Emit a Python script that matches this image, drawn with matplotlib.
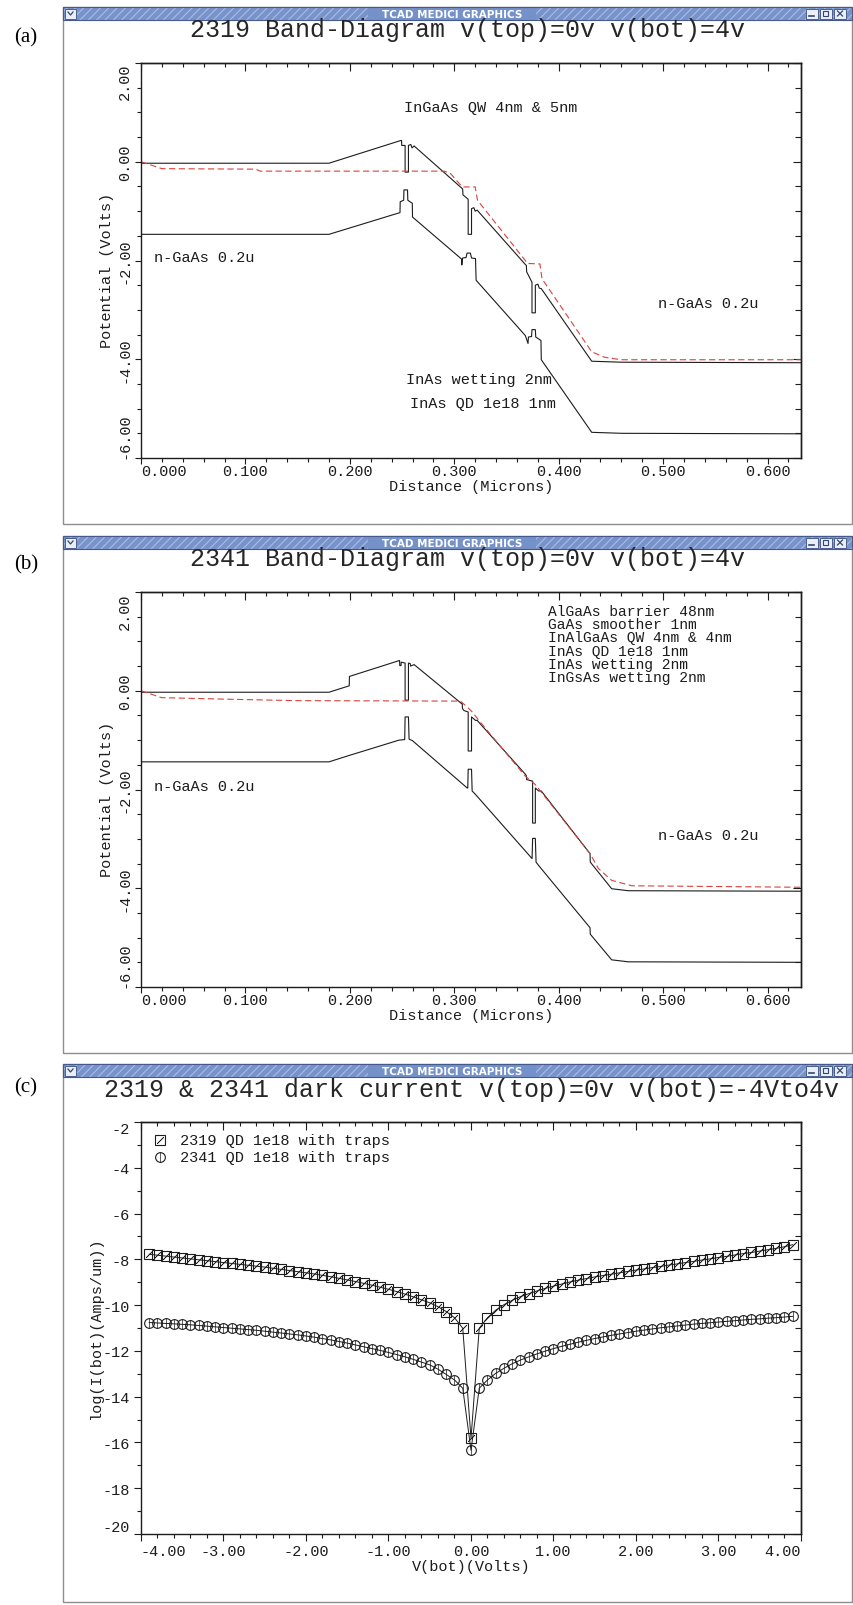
import numpy as np
import matplotlib
matplotlib.use("Agg")
import matplotlib.pyplot as plt
from matplotlib.patches import Rectangle
from matplotlib.lines import Line2D
from matplotlib.ticker import MultipleLocator

plt.rcParams["font.family"] = ["Liberation Mono", "DejaVu Sans Mono"]
plt.rcParams["axes.unicode_minus"] = False
plt.rcParams["lines.scale_dashes"] = False
plt.rcParams["hatch.linewidth"] = 0.8

# ------------------------------------------------------------------ data
titles = ["2319 Band-Diagram v(top)=0v v(bot)=4v",
          "2341 Band-Diagram v(top)=0v v(bot)=4v",
          "2319 & 2341 dark current v(top)=0v v(bot)=-4Vto4v"]
panel_tags = ["(a)", "(b)", "(c)"]
window_caption = "TCAD MEDICI GRAPHICS"

# panel (a) : sample 2319, conduction band / valence band / quasi-Fermi level
a_ec_x = [0.000, 0.180, 0.2487, 0.2495, 0.2497, 0.2529, 0.2529, 0.2561, 0.2561, 0.2583, 0.2596, 0.2615,
          0.3069, 0.3080, 0.3083, 0.3133, 0.3133, 0.3165, 0.3165, 0.3187, 0.3200, 0.3219,
          0.3680, 0.3690, 0.3693, 0.3744, 0.3744, 0.3776, 0.3776, 0.3801, 0.3814, 0.3833,
          0.4316, 0.4602, 0.632]
a_ec_v = [-0.03, -0.03, 0.43, 0.43, 0.33, 0.33, -0.21, -0.21, 0.33, 0.35, 0.28, 0.32,
          -0.53, -0.55, -0.67, -0.76, -1.47, -1.47, -0.95, -0.93, -1.00, -0.98,
          -2.08, -2.10, -2.23, -2.44, -3.06, -3.06, -2.50, -2.48, -2.56, -2.57,
          -4.04, -4.06, -4.07]
a_ev_x = [0.000, 0.180, 0.2480, 0.2482, 0.2515, 0.2518, 0.2552, 0.2555, 0.2598, 0.2600,
          0.3069, 0.3072, 0.3080, 0.3113, 0.3122, 0.3154, 0.3165, 0.3203, 0.3209,
          0.3680, 0.3706, 0.3710, 0.3740, 0.3744, 0.3776, 0.3780, 0.3830, 0.3833,
          0.4316, 0.4602, 0.632]
a_ev_v = [-1.47, -1.47, -1.03, -0.81, -0.78, -0.57, -0.57, -0.78, -0.84, -1.12,
          -1.97, -2.09, -1.95, -1.94, -1.85, -1.85, -1.95, -1.96, -2.40,
          -3.52, -3.68, -3.55, -3.54, -3.40, -3.40, -3.55, -3.62, -4.01,
          -5.48, -5.50, -5.51]
a_ef_x = [0.000, 0.020, 0.110, 0.114, 0.290, 0.296, 0.3076, 0.3200, 0.3222,
          0.3680, 0.3700, 0.3820, 0.3840, 0.4316, 0.4440, 0.4600, 0.632]
a_ef_v = [0.00, -0.14, -0.15, -0.19, -0.19, -0.23, -0.51, -0.51, -0.78,
          -2.00, -2.06, -2.07, -2.37, -3.85, -3.96, -4.01, -4.01]

# panel (b) : sample 2341
b_ec_x = [0.000, 0.180, 0.1994, 0.1996, 0.2471, 0.2476, 0.2478, 0.2490, 0.2492, 0.2529, 0.2529,
          0.2561, 0.2561, 0.2578, 0.2582, 0.2615,
          0.3070, 0.3076, 0.3078, 0.3092, 0.3133, 0.3133, 0.3165, 0.3165, 0.3187, 0.3203, 0.3219,
          0.3680, 0.3690, 0.3693, 0.3750, 0.3750, 0.3776, 0.3776, 0.3808, 0.3833,
          0.4300, 0.4302, 0.4507, 0.4666, 0.632]
b_ec_v = [-0.03, -0.03, 0.10, 0.29, 0.61, 0.61, 0.51, 0.51, 0.58, 0.56, -0.19,
          -0.19, 0.56, 0.55, 0.50, 0.53,
          -0.26, -0.26, -0.36, -0.40, -0.43, -1.22, -1.22, -0.53, -0.57, -0.60, -0.60,
          -1.69, -1.72, -1.80, -1.83, -2.68, -2.68, -1.97, -2.03, -2.03,
          -3.30, -3.47, -4.01, -4.05, -4.06]
b_ev_x = [0.000, 0.180, 0.1994, 0.2471, 0.2525, 0.2529, 0.2561, 0.2567, 0.2599,
          0.3124, 0.3129, 0.3133, 0.3165, 0.3171, 0.3203,
          0.3745, 0.3750, 0.3776, 0.3783, 0.3808,
          0.4300, 0.4302, 0.4507, 0.4666, 0.632]
b_ev_v = [-1.44, -1.44, -1.31, -1.00, -0.99, -0.53, -0.53, -0.98, -1.01,
          -1.97, -1.97, -1.59, -1.59, -2.03, -2.10,
          -3.40, -2.99, -2.99, -3.47, -3.54,
          -4.80, -4.93, -5.45, -5.49, -5.50]
b_ef_x = [0.000, 0.0197, 0.080, 0.1484, 0.3059, 0.3124, 0.3172, 0.3235,
          0.3680, 0.3776, 0.4300, 0.4380, 0.4507, 0.4700, 0.632]
b_ef_v = [0.00, -0.14, -0.17, -0.20, -0.21, -0.33, -0.43, -0.60,
          -1.73, -1.90, -3.30, -3.60, -3.84, -3.95, -3.98]

band_xlim = (0.0, 0.632)
band_ylim = (-6.0, 2.0)
band_xticks = [0.0, 0.1, 0.2, 0.3, 0.4, 0.5, 0.6]
band_xticklabels = ["0.000", "0.100", "0.200", "0.300", "0.400", "0.500", "0.600"]
band_yticks = [-6.0, -4.0, -2.0, 0.0, 2.0]
band_yticklabels = ["-6.00", "-4.00", "-2.00", "0.00", "2.00"]

# panel (c) : dark current, log10(I) vs V(bot)
iv_volts = [-3.9, -3.8, -3.7, -3.6, -3.5, -3.4, -3.3, -3.2, -3.1, -3.0,
            -2.9, -2.8, -2.7, -2.6, -2.5, -2.4, -2.3, -2.2, -2.1, -2.0,
            -1.9, -1.8, -1.7, -1.6, -1.5, -1.4, -1.3, -1.2, -1.1, -1.0,
            -0.9, -0.8, -0.7, -0.6, -0.5, -0.4, -0.3, -0.2, -0.1, 0.0,
            0.1, 0.2, 0.3, 0.4, 0.5, 0.6, 0.7, 0.8, 0.9, 1.0,
            1.1, 1.2, 1.3, 1.4, 1.5, 1.6, 1.7, 1.8, 1.9, 2.0,
            2.1, 2.2, 2.3, 2.4, 2.5, 2.6, 2.7, 2.8, 2.9, 3.0,
            3.1, 3.2, 3.3, 3.4, 3.5, 3.6, 3.7, 3.8, 3.9]
iv_2319 = [-7.78, -7.82, -7.86, -7.90, -7.94, -7.98, -8.02, -8.06, -8.10, -8.14,
           -8.18, -8.22, -8.26, -8.30, -8.34, -8.39, -8.44, -8.49, -8.54, -8.59,
           -8.64, -8.70, -8.76, -8.83, -8.90, -8.97, -9.05, -9.13, -9.22, -9.31,
           -9.41, -9.52, -9.64, -9.77, -9.90, -10.07, -10.28, -10.55, -11.01, -15.82,
           -11.01, -10.55, -10.22, -9.98, -9.79, -9.63, -9.50, -9.38, -9.27, -9.17,
           -9.08, -8.99, -8.91, -8.84, -8.77, -8.71, -8.65, -8.59, -8.53, -8.47,
           -8.42, -8.36, -8.31, -8.25, -8.20, -8.14, -8.09, -8.03, -7.98, -7.92,
           -7.87, -7.81, -7.75, -7.70, -7.64, -7.58, -7.52, -7.45, -7.36]
iv_2341 = [-10.76, -10.78, -10.80, -10.82, -10.84, -10.86, -10.89, -10.92, -10.95, -10.98,
           -11.01, -11.04, -11.07, -11.10, -11.14, -11.18, -11.22, -11.26, -11.30, -11.35,
           -11.40, -11.46, -11.52, -11.59, -11.66, -11.74, -11.82, -11.90, -11.98, -12.07,
           -12.16, -12.26, -12.37, -12.49, -12.61, -12.80, -13.03, -13.27, -13.63, -16.34,
           -13.63, -13.27, -12.98, -12.76, -12.56, -12.40, -12.26, -12.13, -12.01, -11.90,
           -11.80, -11.71, -11.62, -11.54, -11.46, -11.39, -11.32, -11.26, -11.20, -11.14,
           -11.09, -11.04, -10.99, -10.95, -10.91, -10.87, -10.83, -10.80, -10.77, -10.74,
           -10.71, -10.68, -10.65, -10.62, -10.60, -10.57, -10.55, -10.52, -10.49]
iv_labels = ["2319 QD 1e18 with traps", "2341 QD 1e18 with traps"]
iv_xlim = (-4.0, 4.0)
iv_ylim = (-20.0, -2.0)
iv_xticks = [-4, -3, -2, -1, 0, 1, 2, 3, 4]
iv_xticklabels = ["-4.00", "-3.00", "-2.00", "-1.00", "0.00", "1.00", "2.00", "3.00", "4.00"]
iv_yticks = [-20, -18, -16, -14, -12, -10, -8, -6, -4, -2]
iv_yticklabels = ["-20", "-18", "-16", "-14", "-12", "-10", "-8", "-6", "-4", "-2"]

# ------------------------------------------------------------------ figure
W, H = 854, 1606
fig = plt.figure(figsize=(W / 100, H / 100), dpi=100)
fig.patch.set_facecolor("white")
INK = "#1c1c1c"
RED = "#d8423c"
FS = 11


def fx(px):
    return px / W


def fy(py):
    return 1.0 - py / H


def fig_rect(x0, y0, x1, y1, **kw):
    r = Rectangle((fx(x0), fy(y1)), fx(x1) - fx(x0), (y1 - y0) / H,
                  transform=fig.transFigure, **kw)
    fig.add_artist(r)
    return r


def fig_line(xs, ys, **kw):
    ln = Line2D([fx(x) for x in xs], [fy(y) for y in ys], transform=fig.transFigure, **kw)
    fig.add_artist(ln)


def draw_window(top, bottom, left=63, right=852):
    bar = 13
    fig_rect(left, top, right, bottom, facecolor="white", edgecolor="#8e8e8e", lw=1.0, zorder=-10)
    fig_rect(left, top, right, top + bar, facecolor="#7893cb", edgecolor="#aabce3",
             hatch="////", lw=0, zorder=-9)
    fig_rect(368, top + 0.5, 536, top + bar - 0.5, facecolor="#7591ca", edgecolor="none", zorder=-8)
    fig_rect(left, top, right, top + bar, facecolor="none", edgecolor="#45598a", lw=0.8, zorder=-7)
    fig.text(fx(452), fy(top + bar / 2 + 0.3), window_caption, color="white", fontsize=7.5,
             fontweight="bold", family=["DejaVu Sans"], ha="center", va="center")
    # left menu button
    fig_rect(left + 2, top + 1.5, left + 13, top + 11.5, facecolor="#e9eef7",
             edgecolor="#4b5f8f", lw=0.7, zorder=-6)
    fig_line([left + 5, left + 7.5, left + 10], [top + 5, top + 8, top + 5],
             color="#33466f", lw=0.9, zorder=-5)
    # right buttons
    for i, x0 in enumerate([806, 820, 834]):
        fig_rect(x0, top + 1.5, x0 + 12, top + 11.5, facecolor="#e9eef7",
                 edgecolor="#4b5f8f", lw=0.7, zorder=-6)
        if i == 0:
            fig_line([x0 + 3.5, x0 + 8.5], [top + 8.5, top + 8.5], color="#33466f", lw=1.2, zorder=-5)
        elif i == 1:
            fig_rect(x0 + 3.5, top + 4, x0 + 8.5, top + 9, facecolor="none",
                     edgecolor="#33466f", lw=0.8, zorder=-5)
        else:
            fig_line([x0 + 3.5, x0 + 8.5], [top + 4, top + 9], color="#33466f", lw=0.9, zorder=-5)
            fig_line([x0 + 3.5, x0 + 8.5], [top + 9, top + 4], color="#33466f", lw=0.9, zorder=-5)


def add_axes(top, bottom, left=141, right=801):
    ax = fig.add_axes([fx(left), fy(bottom), (right - left) / W, (bottom - top) / H])
    ax.set_facecolor("none")
    for s in ax.spines.values():
        s.set_color(INK)
        s.set_linewidth(1.0)
    return ax


def inner_ticks(ax, xmaj, xstep, ymaj, ystep):
    tx = ax.secondary_xaxis("top")
    tx.set_xticks(xmaj)
    tx.xaxis.set_minor_locator(MultipleLocator(xstep))
    tx.tick_params(axis="x", which="both", direction="in", labeltop=False, colors=INK, width=0.8)
    tx.tick_params(axis="x", which="major", length=6)
    tx.tick_params(axis="x", which="minor", length=3)
    tx.spines["top"].set_linewidth(1.0)
    tx.spines["top"].set_color(INK)
    ry = ax.secondary_yaxis("right")
    ry.set_yticks(ymaj)
    ry.yaxis.set_minor_locator(MultipleLocator(ystep))
    ry.tick_params(axis="y", which="both", direction="in", labelright=False, colors=INK, width=0.8)
    ry.tick_params(axis="y", which="major", length=6)
    ry.tick_params(axis="y", which="minor", length=4)
    ry.spines["right"].set_linewidth(1.0)
    ry.spines["right"].set_color(INK)


def band_panel(top, bottom, ec_x, ec_v, ev_x, ev_v, ef_x, ef_v):
    ax = add_axes(top, bottom)
    ax.plot(ec_x, ec_v, color=INK, lw=0.8)
    ax.plot(ev_x, ev_v, color=INK, lw=0.8)
    ax.plot(ef_x, ef_v, color=RED, lw=0.8, dashes=(4.5, 2.5))
    ax.set_xlim(*band_xlim)
    ax.set_ylim(*band_ylim)
    ax.set_xticks(band_xticks)
    ax.set_xticklabels(band_xticklabels)
    ax.xaxis.set_minor_locator(MultipleLocator(0.02))
    ax.set_yticks(band_yticks)
    ax.set_yticklabels(band_yticklabels, rotation=90, va="center", ha="right")
    ax.yaxis.set_minor_locator(MultipleLocator(0.5))
    ax.tick_params(which="both", direction="out", colors=INK, labelsize=FS, width=0.8)
    ax.tick_params(axis="x", which="major", length=4, pad=0.5)
    ax.tick_params(axis="x", which="minor", length=3)
    ax.tick_params(axis="y", which="major", length=4, pad=2.6)
    ax.tick_params(axis="y", which="minor", length=3)
    ax.get_xticklabels()[0].set_ha("left")
    yl = ax.get_yticklabels()
    yl[0].set_va("bottom")
    yl[-1].set_va("top")
    inner_ticks(ax, band_xticks, 0.02, band_yticks, 0.5)
    ax.set_xlabel("Distance (Microns)", fontsize=FS, color=INK)
    ax.xaxis.set_label_coords(0.5, -0.072)
    ax.xaxis.label.set_va("center")
    ax.set_ylabel("Potential (Volts)", fontsize=FS, color=INK)
    ax.yaxis.set_label_coords(-0.0515, 0.478)
    ax.yaxis.label.set_va("center")
    return ax


# windows, titles, panel tags
draw_window(8, 525)
draw_window(537, 1054)
draw_window(1065, 1603)
for ty, tx, t in [(30.5, 467, titles[0]), (559.5, 467, titles[1]), (1090, 472, titles[2])]:
    fig.text(fx(tx), fy(ty), t, fontsize=18, color="#262626", ha="center", va="center")
for ty, t in [(38, panel_tags[0]), (565, panel_tags[1]), (1088, panel_tags[2])]:
    fig.text(fx(26), fy(ty), t, fontsize=15, color="black", ha="center", va="center",
             family=["Liberation Serif", "DejaVu Serif"])

# panel (a)
axa = band_panel(64, 459, a_ec_x, a_ec_v, a_ev_x, a_ev_v, a_ef_x, a_ef_v)
axa.text(0.3347, 1.11, "InGaAs QW 4nm & 5nm", fontsize=FS, color=INK, ha="center", va="center")
axa.text(0.0121, -1.93, "n-GaAs 0.2u", fontsize=FS, color=INK, ha="left", va="center")
axa.text(0.4955, -2.87, "n-GaAs 0.2u", fontsize=FS, color=INK, ha="left", va="center")
axa.text(0.2542, -4.40, "InAs wetting 2nm", fontsize=FS, color=INK, ha="left", va="center")
axa.text(0.2572, -4.88, "InAs QD 1e18 1nm", fontsize=FS, color=INK, ha="left", va="center")

# panel (b)
axb = band_panel(593, 988, b_ec_x, b_ec_v, b_ev_x, b_ev_v, b_ef_x, b_ef_v)
b_layers = ["AlGaAs barrier 48nm", "GaAs smoother 1nm", "InAlGaAs QW 4nm & 4nm",
            "InAs QD 1e18 1nm", "InAs wetting 2nm", "InGsAs wetting 2nm"]
axb.text(0.3900, 1.76, "\n".join(b_layers), fontsize=10.5, color=INK, ha="left", va="top",
         linespacing=0.93)
axb.text(0.0121, -1.93, "n-GaAs 0.2u", fontsize=FS, color=INK, ha="left", va="center")
axb.text(0.4955, -2.92, "n-GaAs 0.2u", fontsize=FS, color=INK, ha="left", va="center")

# panel (c)
axc = add_axes(1123, 1535)
axc.plot(iv_volts, iv_2319, color=INK, lw=0.7, marker="s", ms=6.5, mfc="none", mec=INK, mew=0.8)
axc.plot(iv_volts, iv_2319, ls="none", marker=(2, 2, -45), ms=6.5, mec=INK, mew=0.5)
axc.plot(iv_volts, iv_2341, color=INK, lw=0.7, marker="o", ms=7, mfc="none", mec=INK, mew=0.8)
axc.plot(iv_volts, iv_2341, ls="none", marker="|", ms=7, mec=INK, mew=0.5)
axc.set_xlim(*iv_xlim)
axc.set_ylim(*iv_ylim)
axc.set_xticks(iv_xticks)
axc.set_xticklabels(iv_xticklabels)
axc.xaxis.set_minor_locator(MultipleLocator(0.2))
axc.set_yticks(iv_yticks)
axc.set_yticklabels(iv_yticklabels)
axc.yaxis.set_minor_locator(MultipleLocator(1.0))
axc.tick_params(which="both", direction="out", colors=INK, labelsize=FS, width=0.8)
axc.tick_params(axis="x", which="major", length=5, pad=2.5)
axc.tick_params(axis="x", which="minor", length=3)
axc.tick_params(axis="y", which="major", length=5, pad=3.0)
axc.tick_params(axis="y", which="minor", length=3)
xl = axc.get_xticklabels()
xl[0].set_ha("left")
xl[-1].set_ha("right")
yl = axc.get_yticklabels()
yl[0].set_va("bottom")
yl[-1].set_va("top")
inner_ticks(axc, iv_xticks, 0.2, iv_yticks, 1.0)
axc.set_xlabel("V(bot)(Volts)", fontsize=FS, color=INK)
axc.xaxis.set_label_coords(0.5, -0.078)
axc.xaxis.label.set_va("center")
axc.set_ylabel("log(I(bot)(Amps/um))", fontsize=FS, color=INK)
axc.yaxis.set_label_coords(-0.068, 0.5)
axc.yaxis.label.set_va("center")

# legend (symbols + labels, top-left inside the frame)
leg_y = [0.957, 0.914]
axc.plot([0.0288], [leg_y[0]], transform=axc.transAxes, ls="none", marker="s", ms=6.5,
         mfc="none", mec=INK, mew=0.8, clip_on=False)
axc.plot([0.0288], [leg_y[0]], transform=axc.transAxes, ls="none", marker=(2, 2, -45), ms=6.5,
         mec=INK, mew=0.5, clip_on=False)
axc.plot([0.0288], [leg_y[1]], transform=axc.transAxes, ls="none", marker="o", ms=7,
         mfc="none", mec=INK, mew=0.8, clip_on=False)
axc.plot([0.0288], [leg_y[1]], transform=axc.transAxes, ls="none", marker="|", ms=7,
         mec=INK, mew=0.5, clip_on=False)
for yy, lab in zip(leg_y, iv_labels):
    axc.text(0.059, yy, lab, transform=axc.transAxes, fontsize=FS, color=INK, ha="left", va="center")

fig.savefig("out.png", dpi=100, facecolor="white")
